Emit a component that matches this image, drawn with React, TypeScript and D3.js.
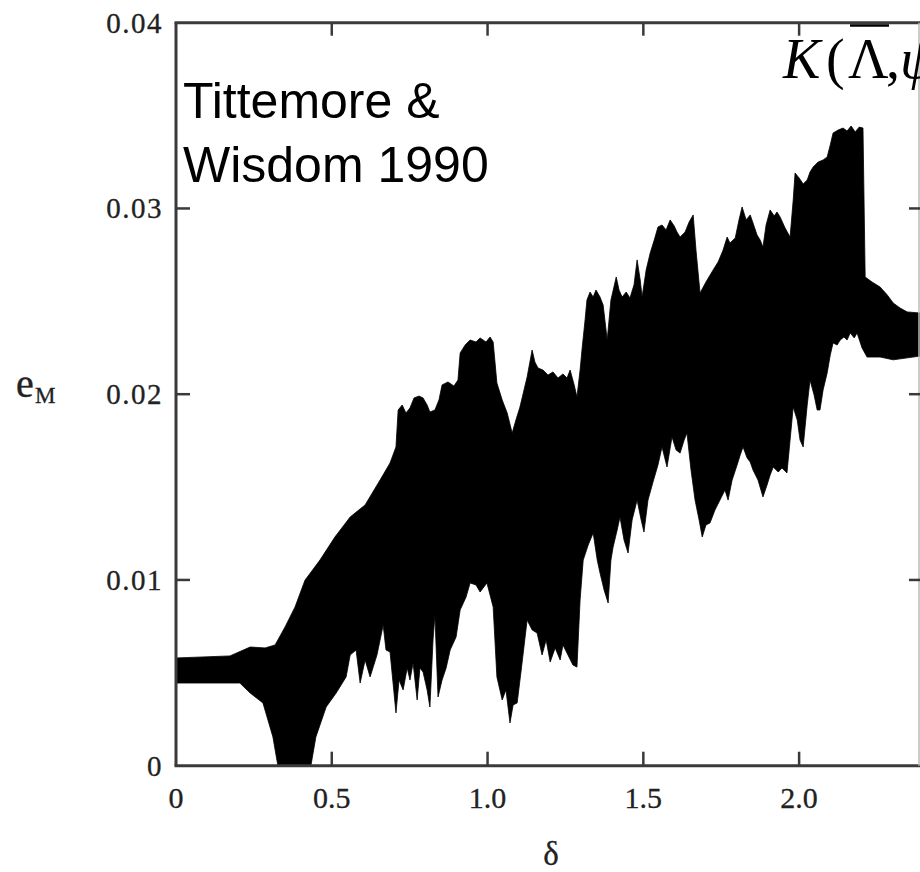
import React from "react";
import * as d3 from "d3";

// Upper edge of the eccentricity band, [delta, e_M]
const upperEnvelope: [number, number][] = [
  [0.0, 0.0058], [0.173, 0.00591], [0.238, 0.00639], [0.286, 0.00634], [0.318, 0.0065],
  [0.35, 0.00747], [0.382, 0.00854], [0.414, 0.00999], [0.462, 0.01107], [0.51, 0.01231],
  [0.559, 0.01339], [0.607, 0.01404], [0.655, 0.01538], [0.687, 0.0163], [0.706, 0.01716],
  [0.713, 0.01915], [0.726, 0.01942], [0.738, 0.01899], [0.751, 0.01926], [0.764, 0.0198],
  [0.78, 0.0199], [0.793, 0.0198], [0.806, 0.01942], [0.815, 0.01904], [0.831, 0.01915],
  [0.844, 0.01969], [0.854, 0.0205], [0.873, 0.02066], [0.892, 0.02044], [0.905, 0.02076],
  [0.912, 0.02222], [0.928, 0.02265], [0.944, 0.02292], [0.963, 0.02281], [0.976, 0.02303],
  [0.995, 0.02281], [1.008, 0.02308], [1.018, 0.02281], [1.03, 0.0206], [1.047, 0.01969],
  [1.063, 0.01899], [1.079, 0.01791], [1.091, 0.01861], [1.104, 0.01931], [1.117, 0.02023],
  [1.127, 0.02093], [1.143, 0.02238], [1.152, 0.02173], [1.162, 0.02141], [1.178, 0.0213],
  [1.194, 0.02103], [1.21, 0.0212], [1.226, 0.02087], [1.242, 0.02109], [1.255, 0.02087],
  [1.265, 0.0213], [1.278, 0.0205], [1.287, 0.01985], [1.297, 0.0213], [1.303, 0.02238],
  [1.313, 0.024], [1.319, 0.02507], [1.329, 0.0255], [1.339, 0.02523], [1.348, 0.02561],
  [1.361, 0.02523], [1.371, 0.0248], [1.384, 0.02292], [1.396, 0.02507], [1.413, 0.02631],
  [1.422, 0.02561], [1.432, 0.02523], [1.445, 0.0255], [1.457, 0.02518], [1.47, 0.02588],
  [1.48, 0.02723], [1.49, 0.02615], [1.496, 0.02523], [1.509, 0.02669], [1.522, 0.0276],
  [1.535, 0.0283], [1.547, 0.029], [1.56, 0.02911], [1.573, 0.02884], [1.586, 0.02938],
  [1.599, 0.02906], [1.608, 0.02873], [1.618, 0.02846], [1.634, 0.02873], [1.647, 0.02927],
  [1.66, 0.02965], [1.669, 0.02776], [1.682, 0.02545], [1.701, 0.02604], [1.724, 0.02669],
  [1.74, 0.02712], [1.756, 0.02776], [1.769, 0.02846], [1.778, 0.02814], [1.795, 0.02841],
  [1.807, 0.02938], [1.817, 0.03008], [1.83, 0.02938], [1.843, 0.02965], [1.852, 0.02922],
  [1.865, 0.02857], [1.875, 0.0283], [1.884, 0.02792], [1.894, 0.02911], [1.907, 0.02992],
  [1.92, 0.02959], [1.929, 0.02981], [1.939, 0.02954], [1.955, 0.02895], [1.971, 0.02846],
  [1.981, 0.03045], [1.987, 0.03191], [2.0, 0.03164], [2.013, 0.03132], [2.026, 0.03153],
  [2.035, 0.03196], [2.045, 0.03223], [2.061, 0.0325], [2.077, 0.03261], [2.09, 0.03277],
  [2.1, 0.03342], [2.109, 0.03406], [2.125, 0.03422], [2.141, 0.03433], [2.154, 0.03417],
  [2.167, 0.03444], [2.18, 0.03412], [2.193, 0.03438], [2.205, 0.03433], [2.212, 0.02631],
  [2.234, 0.02604], [2.26, 0.02577], [2.283, 0.02534], [2.302, 0.02491], [2.324, 0.02464],
  [2.347, 0.02443], [2.388, 0.02437],
];

// Lower edge of the eccentricity band, [delta, e_M]
const lowerEnvelope: [number, number][] = [
  [0.0, 0.00445], [0.205, 0.00445], [0.238, 0.00391], [0.279, 0.00338], [0.311, 0.00155],
  [0.327, 0.0], [0.433, 0.0], [0.449, 0.00155], [0.482, 0.00316], [0.514, 0.00391],
  [0.546, 0.00478], [0.559, 0.00596], [0.578, 0.00623], [0.591, 0.00445], [0.607, 0.00569],
  [0.623, 0.00478], [0.645, 0.00596], [0.665, 0.00757], [0.674, 0.00623], [0.687, 0.00612],
  [0.706, 0.00284], [0.716, 0.00461], [0.729, 0.00408], [0.742, 0.00526], [0.751, 0.00461],
  [0.761, 0.00553], [0.774, 0.00354], [0.783, 0.00526], [0.793, 0.00504], [0.806, 0.00408],
  [0.815, 0.00316], [0.825, 0.00677], [0.831, 0.00811], [0.841, 0.0037], [0.854, 0.00461],
  [0.867, 0.00526], [0.88, 0.00623], [0.899, 0.00693], [0.912, 0.00838], [0.931, 0.00908],
  [0.944, 0.00984], [0.963, 0.00973], [0.976, 0.00935], [0.998, 0.00984], [1.018, 0.00854],
  [1.03, 0.00478], [1.047, 0.00354], [1.059, 0.00408], [1.072, 0.0023], [1.082, 0.00327],
  [1.095, 0.00338], [1.108, 0.00515], [1.127, 0.00784], [1.143, 0.00731], [1.159, 0.00714],
  [1.175, 0.00596], [1.188, 0.00677], [1.201, 0.00558], [1.217, 0.00634], [1.233, 0.00569],
  [1.242, 0.0065], [1.258, 0.00596], [1.274, 0.00542], [1.287, 0.00531], [1.297, 0.00892],
  [1.307, 0.01107], [1.323, 0.01188], [1.339, 0.01253], [1.352, 0.01107], [1.361, 0.01037],
  [1.374, 0.00946], [1.387, 0.00876], [1.396, 0.01107], [1.403, 0.01177], [1.416, 0.01269],
  [1.425, 0.01339], [1.438, 0.01215], [1.451, 0.01145], [1.464, 0.01323], [1.48, 0.0143],
  [1.493, 0.01323], [1.502, 0.01258], [1.515, 0.0143], [1.531, 0.01527], [1.547, 0.01619],
  [1.56, 0.01716], [1.576, 0.01608], [1.592, 0.0177], [1.605, 0.017], [1.618, 0.01683],
  [1.631, 0.01753], [1.64, 0.01791], [1.653, 0.01592], [1.666, 0.0143], [1.679, 0.01323],
  [1.689, 0.01231], [1.701, 0.01296], [1.714, 0.01307], [1.73, 0.01377], [1.746, 0.0143],
  [1.762, 0.01484], [1.772, 0.0143], [1.785, 0.01538], [1.801, 0.01619], [1.811, 0.01673],
  [1.82, 0.01716], [1.833, 0.01657], [1.843, 0.01635], [1.852, 0.01592], [1.868, 0.01538],
  [1.884, 0.01447], [1.897, 0.01511], [1.907, 0.01565], [1.917, 0.01608], [1.933, 0.01581],
  [1.945, 0.01603], [1.961, 0.01576], [1.971, 0.01753], [1.981, 0.01931], [1.994, 0.01861],
  [2.003, 0.01753], [2.013, 0.01716], [2.026, 0.01942], [2.035, 0.02076], [2.048, 0.01996],
  [2.058, 0.01915], [2.067, 0.01915], [2.077, 0.02023], [2.09, 0.02114], [2.1, 0.02211],
  [2.109, 0.02276], [2.122, 0.02265], [2.132, 0.02292], [2.144, 0.02308], [2.154, 0.02292],
  [2.164, 0.0233], [2.177, 0.02303], [2.186, 0.0233], [2.202, 0.02249], [2.218, 0.022],
  [2.26, 0.022], [2.302, 0.02185], [2.388, 0.02205],
];

const xTicks = [0, 0.5, 1.0, 1.5, 2.0];
const xTickLabels = ["0", "0.5", "1.0", "1.5", "2.0"];
const yTicks = [0, 0.01, 0.02, 0.03, 0.04];
const yTickLabels = ["0", "0.01", "0.02", "0.03", "0.04"];

const W = 920;
const H = 872;
const left = 176;
const right = 920;
const top = 22.7;
const bottom = 765.7;

export default function App() {
  const x = d3.scaleLinear().domain([0, 2.388]).range([left, right]);
  const y = d3.scaleLinear().domain([0, 0.04]).range([bottom, top]);

  const line = d3
    .line<[number, number]>()
    .x((d) => x(d[0]))
    .y((d) => y(d[1]));
  const outline = [...upperEnvelope, ...lowerEnvelope.slice().reverse()];
  const bandPath = (line(outline) ?? "") + "Z";

  const axisColor = "#3a3a3a";
  const labelColor = "#222";
  const serif = "'Liberation Serif', 'Times New Roman', serif";
  const sans = "'Liberation Sans', Arial, sans-serif";

  return (
    <svg
      width={W}
      height={H}
      style={{ position: "absolute", left: 0, top: 0, background: "#fff" }}
    >
      <path d={bandPath} fill="#000" stroke="#000" strokeWidth={0.8} strokeLinejoin="round" />

      {/* frame */}
      <line x1={left} y1={top} x2={left} y2={bottom} stroke={axisColor} strokeWidth={3} />
      <line x1={left - 1.5} y1={bottom} x2={right} y2={bottom} stroke={axisColor} strokeWidth={3} />
      <line x1={left - 1.5} y1={top} x2={right} y2={top} stroke={axisColor} strokeWidth={3} />
      <line x1={right - 1} y1={top} x2={right - 1} y2={bottom} stroke="#bbb" strokeWidth={1.5} />

      {/* x ticks (bottom and top, inward) */}
      {xTicks.slice(1).map((t) => (
        <g key={"xt" + t}>
          <line x1={x(t)} x2={x(t)} y1={bottom} y2={bottom - 14} stroke={axisColor} strokeWidth={2.5} />
          <line x1={x(t)} x2={x(t)} y1={top} y2={top + 13} stroke={axisColor} strokeWidth={2.5} />
        </g>
      ))}
      {xTicks.map((t, i) => (
        <text
          key={"xl" + t}
          x={x(t)}
          y={808}
          textAnchor="middle"
          fontFamily={serif}
          fontSize={30}
          fill={labelColor}
          stroke={labelColor}
          strokeWidth={0.3}
        >
          {xTickLabels[i]}
        </text>
      ))}

      {/* y ticks (left and right, inward) */}
      {yTicks.slice(1, 4).map((t) => (
        <g key={"yt" + t}>
          <line x1={left} x2={left + 14} y1={y(t)} y2={y(t)} stroke={axisColor} strokeWidth={2.5} />
          <line x1={right - 11} x2={right} y1={y(t)} y2={y(t)} stroke={axisColor} strokeWidth={2.5} />
        </g>
      ))}
      {yTicks.map((t, i) => (
        <text
          key={"yl" + t}
          x={163}
          y={y(t) + 10}
          textAnchor="end"
          fontFamily={serif}
          fontSize={29}
          letterSpacing={1.5}
          fill={labelColor}
          stroke={labelColor}
          strokeWidth={0.3}
        >
          {yTickLabels[i]}
        </text>
      ))}

      {/* axis titles */}
      <text
        x={551}
        y={865}
        textAnchor="middle"
        fontFamily={serif}
        fontSize={33}
        fill={labelColor}
        stroke={labelColor}
        strokeWidth={0.3}
      >
        δ
      </text>
      <text x={16} y={397} fontFamily={serif} fontSize={40} fill={labelColor} stroke={labelColor} strokeWidth={0.4}>
        e
      </text>
      <text x={35} y={403} fontFamily={serif} fontSize={23} fill={labelColor} stroke={labelColor} strokeWidth={0.3}>
        M
      </text>

      {/* citation */}
      <text x={183} y={118} fontFamily={sans} fontSize={50} fill="#000">
        Tittemore &amp;
      </text>
      <text x={183} y={182} fontFamily={sans} fontSize={50} fill="#000">
        Wisdom 1990
      </text>

      {/* Hamiltonian label */}
      <text y={78} fontFamily={serif} fontSize={56} fill="#000">
        <tspan x={783} fontStyle="italic">K</tspan>
        <tspan x={826}>(</tspan>
        <tspan x={848}>Λ</tspan>
        <tspan x={886}>,</tspan>
        <tspan x={900} fontStyle="italic">ψ</tspan>
      </text>
      <line x1={850} x2={889} y1={25.5} y2={25.5} stroke="#000" strokeWidth={2.5} />
    </svg>
  );
}
